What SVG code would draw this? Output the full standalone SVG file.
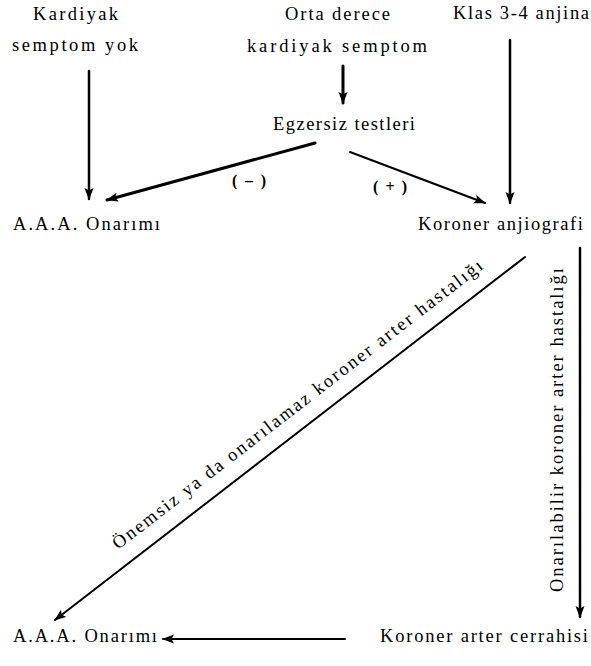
<svg xmlns="http://www.w3.org/2000/svg" width="591" height="666" viewBox="0 0 591 666" font-family="'Liberation Serif', 'Times New Roman', serif">
<defs>
<style>
text{font-family:'Liberation Serif','Times New Roman',serif;font-size:18.5px;fill:#000}
.b{font-weight:bold;font-size:16px}
.c{stroke:#000;fill:none;stroke-linecap:round}
</style>
<marker id="ah" markerUnits="userSpaceOnUse" markerWidth="12" markerHeight="10" viewBox="0 0 12 10" refX="11" refY="5" orient="auto">
<path d="M0,0.5 L12,5 L0,9.5 L2.5,5 Z" fill="#000"/>
</marker>
</defs>
<rect width="591" height="666" fill="#fff"/>
<g id="connectors">
<line class="c" x1="89" y1="71" x2="89" y2="199" stroke-width="2.5" marker-end="url(#ah)"/>
<line class="c" x1="343" y1="66" x2="343" y2="103" stroke-width="3" marker-end="url(#ah)"/>
<line class="c" x1="510" y1="40" x2="510" y2="203" stroke-width="2.5" marker-end="url(#ah)"/>
<line class="c" x1="315" y1="143" x2="107" y2="200" stroke-width="3" marker-end="url(#ah)"/>
<line class="c" x1="350" y1="152" x2="485" y2="203" stroke-width="2" marker-end="url(#ah)"/>
<line class="c" x1="525" y1="257" x2="55" y2="620" stroke-width="2" marker-end="url(#ah)"/>
<line class="c" x1="580" y1="248" x2="580" y2="617" stroke-width="2.5" marker-end="url(#ah)"/>
<line class="c" x1="345" y1="639" x2="163" y2="639" stroke-width="2" marker-end="url(#ah)"/>
<text class="b" x="232" y="186" textLength="34" lengthAdjust="spacing">(–)</text>
<text class="b" x="373" y="192" textLength="34" lengthAdjust="spacing">(+)</text>
<text transform="translate(118,550) rotate(-37.6)" textLength="462" lengthAdjust="spacing">Önemsiz ya da onarılamaz koroner arter hastalığı</text>
<text transform="translate(563,592) rotate(-90)" textLength="324" lengthAdjust="spacing">Onarılabilir koroner arter hastalığı</text>
</g>
<g id="kardiyak-yok">
<text x="33" y="20" textLength="85" lengthAdjust="spacing">Kardiyak</text>
<text x="12" y="51" textLength="126" lengthAdjust="spacing">semptom yok</text>
</g>
<g id="orta-derece">
<text x="285" y="20" textLength="105" lengthAdjust="spacing">Orta derece</text>
<text x="247" y="52" textLength="180" lengthAdjust="spacing">kardiyak semptom</text>
</g>
<g id="klas">
<text x="453" y="19" textLength="136" lengthAdjust="spacing">Klas 3-4 anjina</text>
</g>
<g id="egzersiz">
<text x="273" y="130" textLength="142" lengthAdjust="spacing">Egzersiz testleri</text>
</g>
<g id="onarim-top">
<text x="13" y="230" textLength="147" lengthAdjust="spacing">A.A.A. Onarımı</text>
</g>
<g id="anjiografi">
<text x="418" y="230" textLength="165" lengthAdjust="spacing">Koroner anjiografi</text>
</g>
<g id="onarim-bottom">
<text x="13" y="642" textLength="144" lengthAdjust="spacing">A.A.A. Onarımı</text>
</g>
<g id="cerrahi">
<text x="380" y="642" textLength="208" lengthAdjust="spacing">Koroner arter cerrahisi</text>
</g>
</svg>
